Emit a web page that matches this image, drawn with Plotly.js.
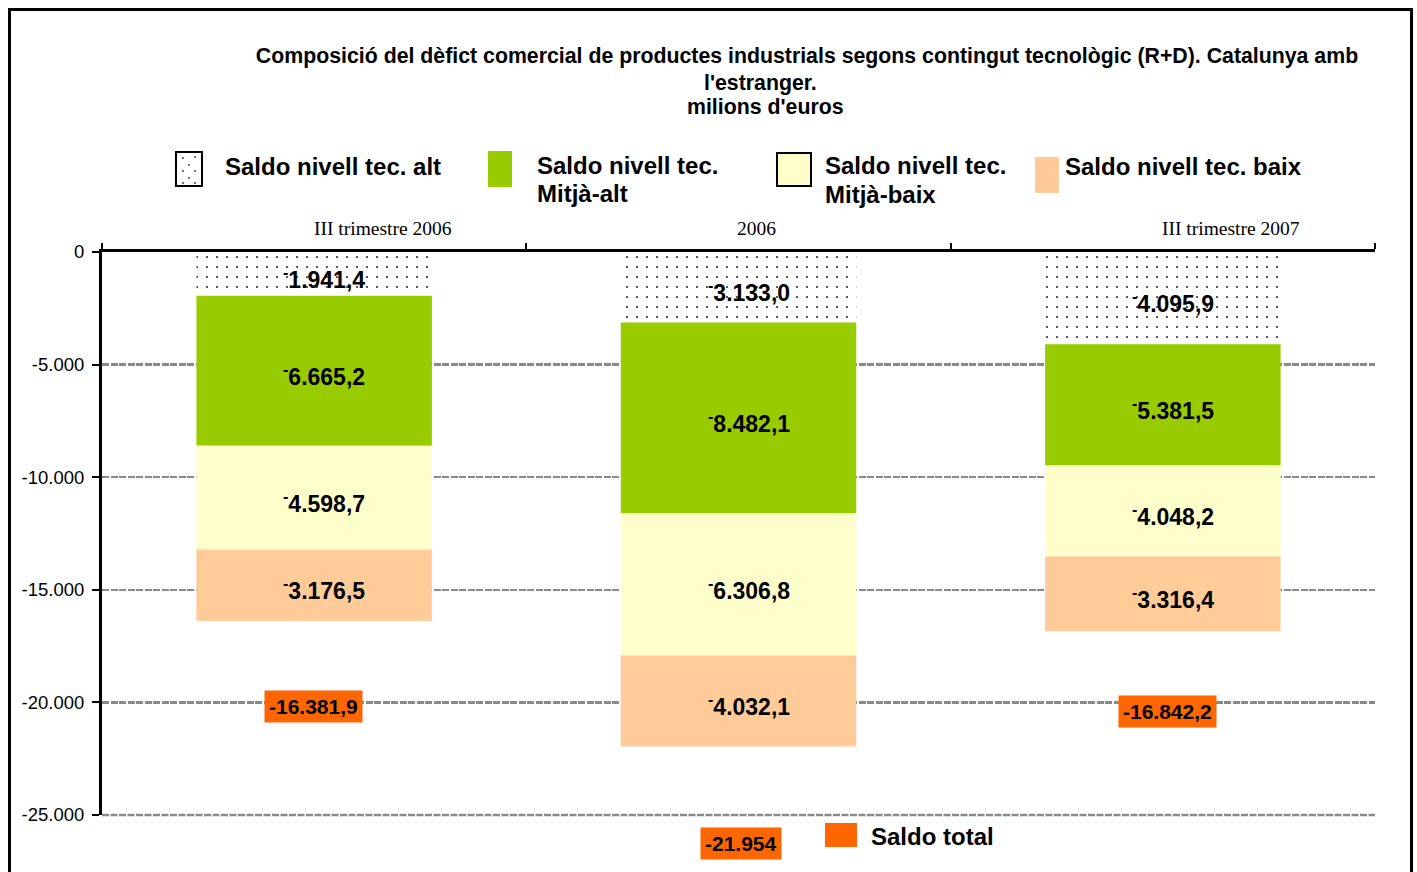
<!DOCTYPE html>
<html>
<head>
<meta charset="utf-8">
<script src="https://cdn.plot.ly/plotly-3.0.1.min.js"></script>
<style>
  html, body { margin: 0; padding: 0; background: #fff; }
  #chart { width: 1417px; height: 872px; }
</style>
</head>
<body>
<div id="chart"></div>
<script>
// ---------------- DATA ----------------
const categories = ['III trimestre 2006', '2006', 'III trimestre 2007'];
const saldoAlt = [-1941.4, -3133.0, -4095.9];
const saldoMitjaAlt = [-6665.2, -8482.1, -5381.5];
const saldoMitjaBaix = [-4598.7, -6306.8, -4048.2];
const saldoBaix = [-3176.5, -4032.1, -3316.4];
const saldoTotal = [-16381.9, -21954, -16842.2];
const totalDecimals = [1, 0, 1];
const seriesNames = ['Saldo nivell tec. alt', 'Saldo nivell tec. Mitjà-alt', 'Saldo nivell tec. Mitjà-baix', 'Saldo nivell tec. baix', 'Saldo total'];
const yTickVals = [0, -5000, -10000, -15000, -20000, -25000];
const yTickText = ['0', '-5.000', '-10.000', '-15.000', '-20.000', '-25.000'];
const titleLines = ['Composició del dèfict comercial de productes industrials segons contingut tecnològic (R+D). Catalunya amb', "l'estranger.", "milions d'euros"];

// ---------------- helpers ----------------
function fmtNum(v, dec) {
  const a = Math.abs(v);
  let s = a.toFixed(dec);
  let [ip, fp] = s.split('.');
  ip = ip.replace(/\B(?=(\d{3})+(?!\d))/g, '.');
  return fp ? ip + ',' + fp : ip;
}
// plot area in pixels
const PL = 102, PR = 1375, PT = 252, PB = 815;
const X = p => (p - PL) / (PR - PL);
const Y = p => (PB - p) / (PB - PT);

const FONT = 'Liberation Sans, Arial, Helvetica, sans-serif';
const SERIF = 'Liberation Serif, Times New Roman, serif';
const colors = ['#ffffff', '#99cc00', '#ffffcc', '#ffcc99', '#ff6600'];
const stack = [saldoAlt, saldoMitjaAlt, saldoMitjaBaix, saldoBaix];

function barTrace(vals, i, extra) {
  return Object.assign({
    type: 'bar',
    name: seriesNames[i],
    x: categories,
    y: vals,
    marker: { color: colors[i], line: { width: 0 } },
    hoverinfo: 'skip',
    showlegend: false
  }, extra || {});
}

const traces = [
  barTrace(saldoAlt, 0, {
    marker: {
      color: '#ffffff', line: { width: 0 },
      pattern: { shape: '.', size: 10, solidity: 0.035, fgcolor: '#333333', bgcolor: '#ffffff', fillmode: 'replace' }
    }
  }),
  barTrace(saldoMitjaAlt, 1),
  barTrace(saldoMitjaBaix, 2),
  barTrace(saldoBaix, 3)
];

// ---------------- annotations ----------------
const annotations = [];
// value labels inside each bar segment (at the segment's middle, in data units)
categories.forEach((c, i) => {
  let base = 0;
  stack.forEach(series => {
    const v = series[i];
    annotations.push({
      x: i, xref: 'x', y: base + v / 2, yref: 'y', xanchor: 'center', yanchor: 'middle',
      xshift: 10, yshift: -4, showarrow: false,
      text: '<sup>-</sup>' + fmtNum(v, 1),
      font: { family: FONT, size: 23, color: '#000', weight: 'bold' }
    });
    base += v;
  });
});
// category labels (top axis) — positioned by category index
const catShift = [69, 18, 68];
categories.forEach((c, i) => {
  annotations.push({
    x: i, xref: 'x', y: 1, yref: 'paper', xanchor: 'center', yanchor: 'bottom',
    xshift: catShift[i], yshift: 11, showarrow: false, text: c,
    font: { family: SERIF, size: 19.5, color: '#000' }
  });
});
// saldo total labels
const totalShift = [-86, -97, -80];
const totalXShift = [-1, 2, 5];
saldoTotal.forEach((v, i) => {
  annotations.push({
    x: i, xref: 'x', y: v, yref: 'y', xanchor: 'center', yanchor: 'middle',
    xshift: totalXShift[i], yshift: totalShift[i], showarrow: false,
    text: '-' + fmtNum(v, totalDecimals[i]),
    bgcolor: colors[4], borderpad: 4,
    font: { family: FONT, size: 21, color: '#000', weight: 'bold' }
  });
});
// title lines 2 and 3
[[titleLines[1], 760, 83], [titleLines[2], 765, 107]].forEach(([t, px, py]) => {
  annotations.push({
    x: X(px), y: Y(py), xref: 'paper', yref: 'paper', xanchor: 'center', yanchor: 'middle',
    showarrow: false, text: t, font: { family: FONT, size: 21.3, color: '#000', weight: 'bold' }
  });
});
// legend texts
const legendText = [
  ['Saldo nivell tec. alt', 224, 167],
  ['Saldo nivell tec.', 536, 166], ['Mitjà-alt', 536, 193],
  ['Saldo nivell tec.', 824, 166], ['Mitjà-baix', 824, 194],
  ['Saldo nivell tec. baix', 1064, 167],
  ['Saldo total', 870, 836]
];
legendText.forEach(([t, px, py]) => {
  annotations.push({
    x: X(px), y: Y(py), xref: 'paper', yref: 'paper', xanchor: 'left', yanchor: 'middle',
    showarrow: false, text: t, borderpad: 0,
    font: { family: FONT, size: 24, color: '#000', weight: 'bold' }
  });
});

// ---------------- shapes ----------------
function rectPx(x0, y0, x1, y1, fill, lineW, lineC) {
  return {
    type: 'rect', xref: 'paper', yref: 'paper', layer: 'above',
    x0: X(x0), x1: X(x1), y0: Y(y0), y1: Y(y1),
    fillcolor: fill, line: { width: lineW || 0, color: lineC || 'rgba(0,0,0,0)' }
  };
}
const GRID = { color: '#8a8a8a', width: 2.5, dash: '7px,1.5px' };
const shapes = [
  // outer frame
  { type: 'rect', xref: 'paper', yref: 'paper', layer: 'below',
    x0: X(9.5), x1: X(1411.5), y0: Y(905), y1: Y(9.5),
    fillcolor: 'rgba(0,0,0,0)', line: { width: 3, color: '#000' } },
  // bottom gridline at the last tick (bottom edge of the plot area, unclipped)
  { type: 'line', xref: 'paper', yref: 'paper', layer: 'below',
    x0: 0, x1: 1, y0: 0, y1: 0,
    line: { color: GRID.color, width: GRID.width, dash: GRID.dash } },
  // legend swatches
  rectPx(176, 152, 202, 186, '#ffffff', 2, '#000'),
  rectPx(488, 151, 512, 187, colors[1]),
  rectPx(777, 153, 811, 186, colors[2], 2, '#000'),
  rectPx(1035, 157, 1059, 193, colors[3]),
  rectPx(825, 823, 857, 847, colors[4])
];
// dots inside the "alt" swatch
[[183, 158], [195, 157], [189, 165], [183, 171], [195, 171], [189, 178], [183, 183], [195, 183]].forEach(([px, py]) => {
  shapes.push({
    type: 'circle', xref: 'paper', yref: 'paper', layer: 'above',
    x0: X(px - 0.9), x1: X(px + 0.9), y0: Y(py + 0.9), y1: Y(py - 0.9),
    fillcolor: '#333', line: { width: 0 }
  });
});

const layout = {
  width: 1417, height: 872,
  margin: { l: PL, r: 1417 - PR, t: PT, b: 872 - PB, pad: 0 },
  paper_bgcolor: '#ffffff', plot_bgcolor: '#ffffff',
  barmode: 'relative', bargap: 0.445,
  separators: ',.',
  showlegend: false,
  title: {
    text: titleLines[0],
    x: 807 / 1417, xref: 'container', xanchor: 'center',
    y: 1 - 56 / 872, yref: 'container', yanchor: 'middle',
    font: { family: FONT, size: 21.3, color: '#000', weight: 'bold' }
  },
  xaxis: {
    type: 'category', side: 'top', anchor: 'y',
    range: [-0.5, 2.5], autorange: false,
    showline: true, linewidth: 3, linecolor: '#000',
    ticks: 'outside', tickson: 'boundaries', ticklen: 6, tickwidth: 2, tickcolor: '#000',
    showticklabels: false, showgrid: false, zeroline: false, fixedrange: true
  },
  yaxis: {
    range: [-25000, 0], autorange: false,
    tickmode: 'array', tickvals: yTickVals, ticktext: yTickText,
    showline: true, linewidth: 3, linecolor: '#000',
    ticks: 'outside', ticklen: 7, tickwidth: 2, tickcolor: '#000',
    ticklabelstandoff: 4,
    tickfont: { family: FONT, size: 18.5, color: '#000' },
    showgrid: true, gridcolor: GRID.color, gridwidth: GRID.width, griddash: GRID.dash,
    zeroline: false, fixedrange: true
  },
  annotations: annotations,
  shapes: shapes
};

Plotly.newPlot('chart', traces, layout, { displayModeBar: false, staticPlot: true });
</script>
</body>
</html>
